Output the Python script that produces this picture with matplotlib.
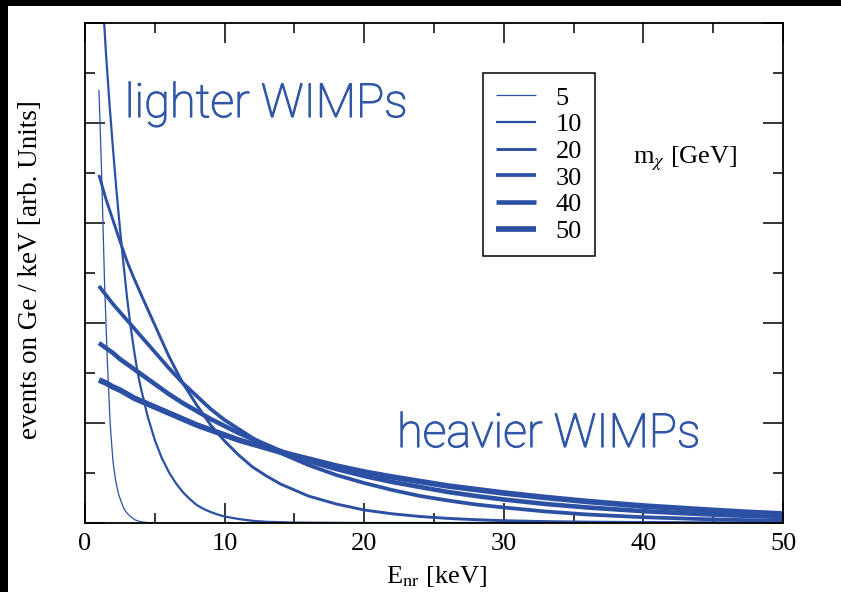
import numpy as np
import matplotlib
matplotlib.use('Agg')
import matplotlib.pyplot as plt
import matplotlib.patheffects as pe
from matplotlib.patches import Rectangle

plt.rcParams['font.family'] = ['Liberation Serif', 'DejaVu Serif']
plt.rcParams['mathtext.fontset'] = 'stix'

# recoil energy grids (keV)
E_5 = [1.0, 1.2, 1.4, 1.6, 1.8, 2.0, 2.2, 2.4, 2.6, 2.8, 3.0, 3.3, 3.6, 4.0, 4.5, 5.0, 10, 20, 30, 40, 50]
E_10 = [1.0, 1.25, 1.5, 1.75, 2.0, 2.25, 2.5, 2.75, 3.0, 3.25, 3.5, 3.75, 4.0, 4.5, 5.0, 5.5,
        6.0, 6.5, 7.0, 7.5, 8.0, 8.5, 9.0, 9.5, 10, 11, 12, 13, 15, 20, 30, 40, 50]
E_heavy = [1, 1.5, 2, 2.5, 3, 3.5, 4, 5, 6, 7, 8, 9, 10, 11, 12, 13, 14, 16, 18, 20,
           22, 24, 26, 28, 30, 33, 36, 40, 44, 47, 50]

# spectra (arb. units)
rate_5 = [4.33, 3.45, 2.40, 1.62, 1.00, 0.62, 0.42, 0.29, 0.21, 0.14, 0.10, 0.06, 0.03, 0.012,
          0.004, 0.0, 0, 0, 0, 0, 0]
rate_10 = [5.9, 5.3, 4.7, 4.2, 3.75, 3.33, 2.95, 2.6, 2.27, 1.98, 1.74, 1.52, 1.35, 1.06, 0.83,
           0.65, 0.51, 0.40, 0.31, 0.24, 0.18, 0.14, 0.11, 0.085, 0.065, 0.04, 0.022, 0.012,
           0.004, 0.0, 0.0, 0.0, 0.0]
rate_20 = [3.48, 3.24, 3.03, 2.82, 2.62, 2.45, 2.29, 1.98, 1.67, 1.40, 1.18, 0.98, 0.82, 0.68,
           0.56, 0.47, 0.39, 0.27, 0.19, 0.13, 0.092, 0.065, 0.046, 0.033, 0.023, 0.014, 0.009,
           0.005, 0.003, 0.002, 0.001]
rate_30 = [2.37, 2.28, 2.19, 2.11, 2.03, 1.95, 1.87, 1.71, 1.55, 1.40, 1.27, 1.14, 1.03, 0.94,
           0.85, 0.77, 0.70, 0.58, 0.48, 0.40, 0.33, 0.27, 0.225, 0.185, 0.155, 0.115, 0.085,
           0.058, 0.04, 0.03, 0.022]
rate_40 = [1.80, 1.75, 1.70, 1.64, 1.59, 1.54, 1.49, 1.39, 1.29, 1.20, 1.12, 1.04, 0.97, 0.90,
           0.84, 0.78, 0.72, 0.62, 0.54, 0.47, 0.41, 0.36, 0.31, 0.27, 0.235, 0.19, 0.155,
           0.118, 0.09, 0.073, 0.06]
rate_50 = [1.43, 1.40, 1.36, 1.33, 1.29, 1.25, 1.22, 1.16, 1.10, 1.04, 0.98, 0.93, 0.88, 0.83,
           0.79, 0.75, 0.71, 0.64, 0.57, 0.51, 0.46, 0.415, 0.37, 0.335, 0.30, 0.255, 0.215,
           0.17, 0.135, 0.11, 0.09]

masses = ['5', '10', '20', '30', '40', '50']
energies = [E_5, E_10, E_heavy, E_heavy, E_heavy, E_heavy]
rates = [rate_5, rate_10, rate_20, rate_30, rate_40, rate_50]
widths = [0.9, 1.6, 2.1, 2.7, 3.3, 4.1]

blue = '#2c50a3'

fig = plt.figure(figsize=(8.41, 5.92), dpi=100)
fig.patch.set_facecolor('black')
fig.add_artist(Rectangle((8/841, 0), 1 - 8/841, 1 - 6/592, transform=fig.transFigure,
                         facecolor='white', edgecolor='none', zorder=0))
ax = fig.add_axes([85/841, 69/592, 698/841, 500/592])

for m, E, r, lw in zip(masses, energies, rates, widths):
    ax.plot(E, r, color=blue, lw=lw, label=m, solid_capstyle='butt', solid_joinstyle='round')

ax.set_xlim(0, 50)
ax.set_ylim(0, 5)
ax.set_xticks(np.arange(0, 51, 10))
ax.set_xticks(np.arange(0, 51, 5), minor=True)
ax.set_yticks(np.arange(0, 5.01, 1))
ax.set_yticks(np.arange(0, 5.01, 0.5), minor=True)
ax.set_yticklabels([])
ax.tick_params(which='both', direction='in', top=True, right=True, width=1.1, colors='black')
ax.tick_params(which='major', length=14.5, labelsize=19, pad=7)
ax.tick_params(which='minor', length=7.2)
for s in ax.spines.values():
    s.set_linewidth(1.3)

ax.set_xlabel(r'E$_{\rm nr}$ [keV]', fontsize=19)
ax.xaxis.set_label_coords(0.503, -0.082)
ax.set_ylabel('events on Ge / keV [arb. Units]', fontsize=19.5)
ax.yaxis.set_label_coords(-0.060, 0.506)

leg = ax.legend(loc='upper left', bbox_to_anchor=(0.570, 0.90), fontsize=19,
                frameon=True, fancybox=False, framealpha=1, edgecolor='black',
                handlelength=1.5, handletextpad=0.75, labelspacing=0.12,
                borderpad=0.5, borderaxespad=0)
leg.get_frame().set_linewidth(1.1)

ax.text(0.785, 0.72, r'm$_\chi$ [GeV]', transform=ax.transAxes, fontsize=19,
        ha='left', va='baseline')

label_color = '#3156a8'
thicken = [pe.withStroke(linewidth=0.9, foreground=label_color)]
ax.text(0.057, 0.812, 'lighter WIMPs', transform=ax.transAxes, fontsize=33.8,
        family=['Roboto', 'Lato', 'DejaVu Sans'], fontweight='light', color=label_color,
        ha='left', va='baseline', path_effects=thicken)
ax.text(0.447, 0.152, 'heavier WIMPs', transform=ax.transAxes, fontsize=33.8,
        family=['Roboto', 'Lato', 'DejaVu Sans'], fontweight='light', color=label_color,
        ha='left', va='baseline', path_effects=thicken)

fig.savefig('out.png', dpi=100)
